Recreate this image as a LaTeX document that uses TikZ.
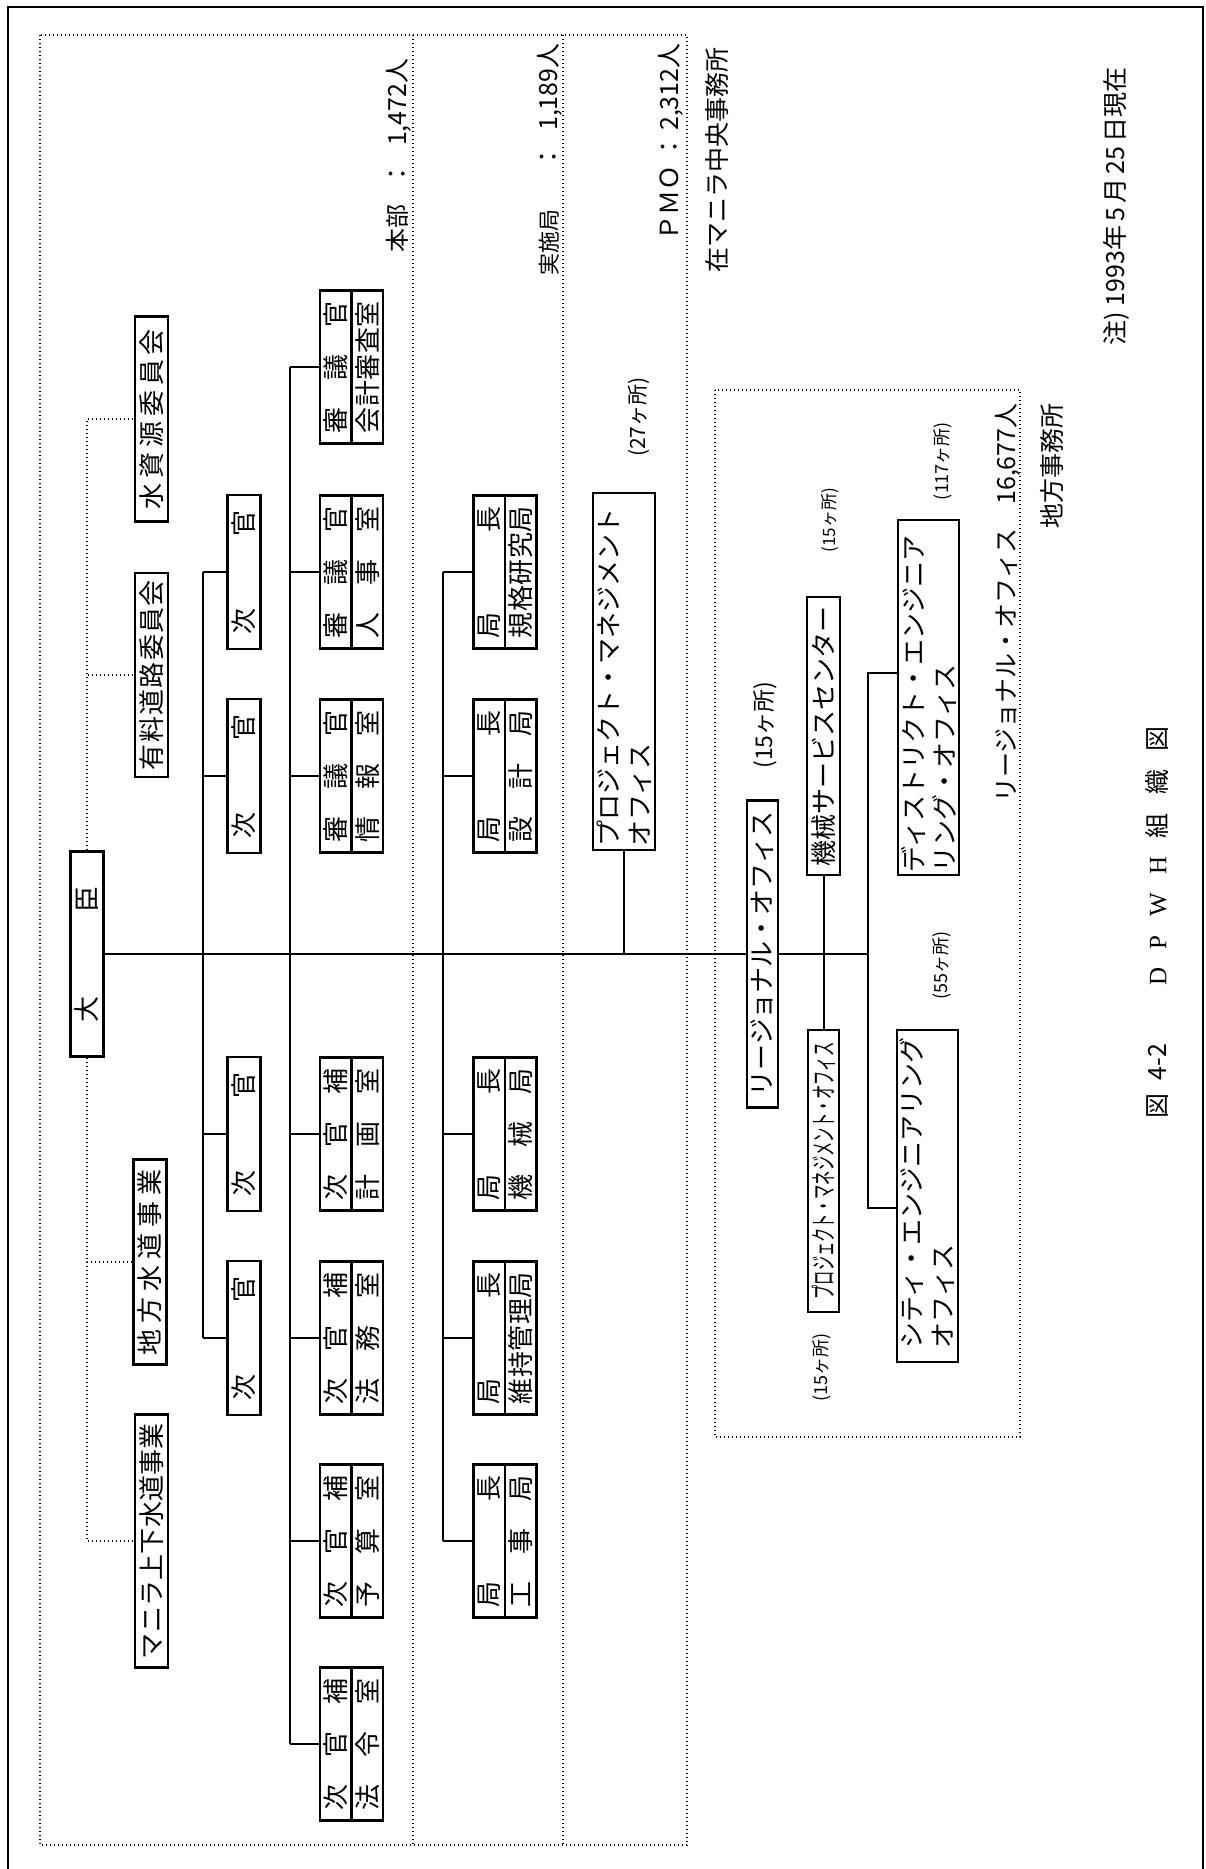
\documentclass[tikz,border=0pt]{standalone}
\usepackage{fontspec}
\setmainfont{Noto Sans CJK JP}
\newfontfamily\latinserif{Liberation Serif}
\usepackage{graphicx}
\tikzset{
  rim/.style={line width=1.1pt},
  org/.style={draw,rim,fill=white,rotate=90,inner sep=0pt,minimum height=16.5pt,
              font=\fontsize{13}{15.5}\selectfont},
  org2/.style={org,minimum width=76.5pt,minimum height=31.5pt,align=center,
               font=\fontsize{13}{15.75}\selectfont},   % two-row post box
  orgtxt/.style={org,align=left,minimum height=31pt},    % two-line office box
  link/.style={line width=1pt},
  dotlink/.style={line width=0.7pt,dash pattern=on 0.7pt off 1.3pt},
  tag/.style={rotate=90,inner sep=0pt,font=\fontsize{12.5}{15}\selectfont},
  cnt/.style={tag,font=\fontsize{9}{11}\selectfont},     % office counts
}
% characters spread evenly over a fixed width
\def\jspx#1#2{#1\ifx\relax#2\else\hfill\expandafter\jspx\expandafter#2\fi}
\newcommand{\jsp}[2]{\edef\jsptmp{#2}\makebox[#1][s]{\expandafter\jspx\jsptmp\relax}}
\newcommand{\narrow}[2][0.55]{\scalebox{#1}[1]{#2}}

\begin{document}
\begin{tikzpicture}[x=0.5pt,y=-0.5pt]
  \useasboundingbox (0,0) rectangle (1205,1869);

  % ---- page frame and dotted groupings ----
  \draw[line width=1.2pt] (8,1869) -- (8,7) -- (1203,7) -- (1203,1869);
  \draw[dotlink] (40,35) rectangle (687,1845);
  \draw[dotlink] (413,35) -- (413,1845);
  \draw[dotlink] (563,35) -- (563,1845);
  \draw[dotlink] (715,390) rectangle (1020,1437);

  % ---- minister and committees ----
  \node[org,minimum width=102.5pt] (dj) at (87,954)     {\jsp{68pt}{大臣}};
  \node[org,minimum width=102.5pt] (c1) at (151.5,419)  {\jsp{90pt}{水資源委員会}};
  \node[org,minimum width=102pt]   (c2) at (151.5,675)  {\jsp{95pt}{有料道路委員会}};
  \node[org,minimum width=102.5pt] (c3) at (150,1262)   {\jsp{93pt}{地方水道事業}};
  \node[org,minimum width=126.5pt] (c4) at (151.5,1541) {\jsp{118pt}{マニラ上下水道事業}};

  % ---- undersecretaries ----
  \foreach \n/\p in {j1/572,j2/776,j3/1134,j4/1338}
    \node[org,minimum width=77pt] (\n) at (244,\p) {\jsp{62pt}{次官}};

  % ---- assistant secretaries and offices ----
  \node[org2] (s1) at (351.5,367)  {\jsp{66pt}{審議官}\\\jsp{66pt}{会計審査室}};
  \node[org2] (s2) at (351.5,572)  {\jsp{66pt}{審議官}\\\jsp{66pt}{人事室}};
  \node[org2] (s3) at (351.5,776)  {\jsp{66pt}{審議官}\\\jsp{66pt}{情報室}};
  \node[org2] (h1) at (351.5,1134) {\jsp{66pt}{次官補}\\\jsp{66pt}{計画室}};
  \node[org2] (h2) at (351.5,1338) {\jsp{66pt}{次官補}\\\jsp{66pt}{法務室}};
  \node[org2] (h3) at (351.5,1541) {\jsp{66pt}{次官補}\\\jsp{66pt}{予算室}};
  \node[org2] (h4) at (351.5,1744) {\jsp{66pt}{次官補}\\\jsp{66pt}{法令室}};

  % ---- bureaus ----
  \node[org2] (k1) at (505,572)  {\jsp{66pt}{局長}\\\jsp{66pt}{規格研究局}};
  \node[org2] (k2) at (505,776)  {\jsp{66pt}{局長}\\\jsp{66pt}{設計局}};
  \node[org2] (k3) at (505,1134) {\jsp{66pt}{局長}\\\jsp{66pt}{機械局}};
  \node[org2] (k4) at (505,1338) {\jsp{66pt}{局長}\\\jsp{66pt}{維持管理局}};
  \node[org2] (k5) at (505,1541) {\jsp{66pt}{局長}\\\jsp{66pt}{工事局}};

  % ---- project management office ----
  \node[orgtxt,minimum width=178.5pt,text width=175pt,inner xsep=1.75pt] (pmo) at (624,671.5)
        {プロジェクト・マネジメント\\オフィス};
  \node[cnt,font=\fontsize{10.5}{12}\selectfont] (n27) at (639,417) {(27ヶ所)};

  % ---- regional offices ----
  \node[org,minimum width=153.5pt,minimum height=15.5pt] (reg) at (762.5,954) {リージョナル・オフィス};
  \node[cnt,font=\fontsize{11.5}{13}\selectfont] (n15a) at (765,725) {(15ヶ所)};
  \node[org,minimum width=139pt] (ks) at (823.5,736) {機械サービスセンター};
  \node[cnt,font=\fontsize{8.5}{10}\selectfont] (n15b) at (830,520) {(15ヶ所)};
  \node[org,minimum width=141pt,minimum height=15.5pt] (pms) at (823.5,1171)
        {\narrow{プロジェクト・マネジメント・オフィス}};
  \node[cnt] (n15c) at (822,1367) {(15ヶ所)};
  \node[orgtxt,minimum width=177.5pt,text width=174.5pt,inner xsep=1.5pt,minimum height=30.5pt]
        (de) at (928.5,697.5) {ディストリクト・エンジニア\\リング・オフィス};
  \node[cnt] (n117) at (943,461) {(117ヶ所)};
  \node[orgtxt,minimum width=166pt,text width=152pt,inner xsep=7pt,minimum height=30.5pt]
        (ce) at (927.5,1196) {シティ・エンジニアリング\\オフィス};
  \node[cnt] (n55) at (942,965) {(55ヶ所)};

  % ---- captions ----
  \node[tag,anchor=east] (lhq)   at (398.5,58) {{\fontsize{12}{14}\selectfont 本部}\hspace{9pt}：\hspace{8pt}1,472人};
  \node[tag,anchor=east] (lib)   at (550,43)   {{\fontsize{11}{13}\selectfont 実施局}\hspace{20pt}：\hspace{7pt}1,189人};
  \node[tag,anchor=east] (lpmo)  at (671,43)   {ＰＭＯ\hspace{3pt}：\hspace{2pt}2,312人};
  \node[tag,anchor=east] (lcen)  at (717,47)   {在マニラ中央事務所};
  \node[tag,anchor=east] (lreg)  at (1008,403) {リージョナル・オフィス\hspace{12pt}16,677人};
  \node[tag,anchor=east] (lloc)  at (1052,403) {地方事務所};
  \node[tag,anchor=east] (lnote) at (1116,67)  {注)\ 1993年\,5\,月\,25\,日現在};
  \node[tag] (ttl) at (1157,922) {\makebox[196pt][s]{図\enspace4-2\hspace{20pt}\hfill
        {\latinserif D}\hfill{\latinserif P}\hfill{\latinserif W}\hfill{\latinserif H}\hfill 組\hfill 織\hfill 図}};

  % ---- connectors ----
  \coordinate (b1) at (203,954);
  \coordinate (b2) at (290,954);
  \coordinate (b3) at (443,954);
  \coordinate (bt) at (868,954);
  \draw[link] (dj.south) -- (reg.north);
  \draw[link] (reg.south) -- (bt);
  \draw[link] (j1.north -| b1) -- (j4.north -| b1);
  \foreach \n in {j1,j2,j3,j4} \draw[link] (\n.north) -- (\n.north -| b1);
  \draw[link] (s1.north -| b2) -- (h4.north -| b2);
  \foreach \n in {s1,s2,s3,h1,h2,h3,h4} \draw[link] (\n.north) -- (\n.north -| b2);
  \draw[link] (k1.north -| b3) -- (k5.north -| b3);
  \foreach \n in {k1,k2,k3,k4,k5} \draw[link] (\n.north) -- (\n.north -| b3);
  \draw[link] (pmo.west) -- (pmo.west |- bt);
  \draw[link] (ks.west) -- (pms.east);
  \coordinate (bd) at (868,673);
  \coordinate (bc) at (868,1208);
  \draw[link] (bd -| de.north) -- (bd) -- (bc) -- (bc -| ce.north);

  % row dividers of the two-row boxes
  \foreach \n in {s1,s2,s3,h1,h2,h3,h4,k1,k2,k3,k4,k5}
    \draw[rim] (\n.west) -- (\n.east);

  % ---- dotted links to the committees ----
  \draw[dotlink] (dj.east) |- (c1.north);
  \draw[dotlink] (dj.east) |- (c2.north);
  \draw[dotlink] (dj.west) |- (c3.north);
  \draw[dotlink] (dj.west) |- (c4.north);
\end{tikzpicture}
\end{document}
